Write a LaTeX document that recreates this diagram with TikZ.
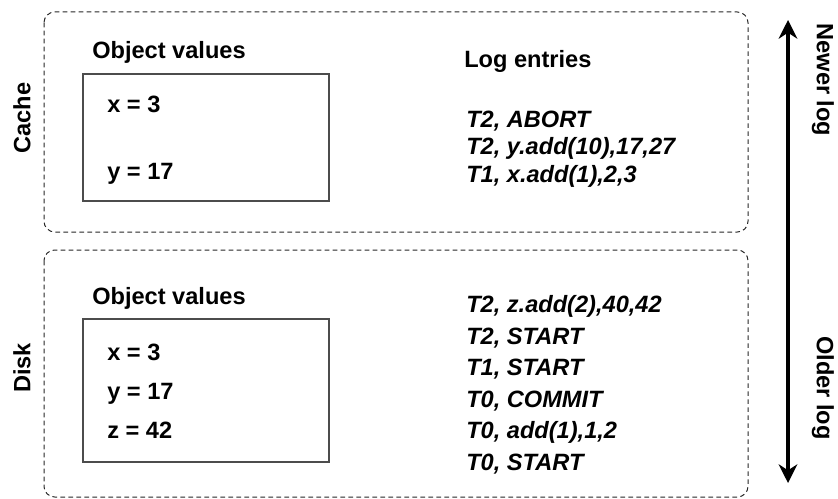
\documentclass[tikz,border=0pt]{standalone}
\usepackage{fontspec}
\setmainfont{Liberation Sans}
\usetikzlibrary{arrows.meta}

\tikzset{
	region/.style={draw=black!85, line width=0.75pt, dash pattern=on 3.5pt off 2.5pt, rounded corners=8pt},
	valbox/.style={draw=black!70, line width=1pt},
	heading/.style={anchor=base west, inner sep=0pt, font=\fontsize{17.7pt}{21pt}\selectfont\bfseries},
	entry/.style={anchor=base west, inner sep=0pt, font=\fontsize{17.7pt}{21pt}\selectfont\bfseries\itshape},
	sidelabel/.style={inner sep=0pt, font=\fontsize{17.7pt}{21pt}\selectfont\bfseries},
	logtip/.tip={Stealth[length=14pt,width=14pt,inset=4.5pt]},
}

\begin{document}
\begin{tikzpicture}[x=0.75pt,y=0.75pt,yscale=-1,xscale=1]
	\useasboundingbox (0,0) rectangle (838,499);
	
	%Rounded Rect (cache)
	\draw [region] (44,12) rectangle (748,232) ;
	%Rounded Rect (disk)
	\draw [region] (44,250) rectangle (748,497) ;
	
	%Shape: Rectangle (cache values)
	\draw [valbox] (83,74) rectangle (329,201) ;
	%Shape: Rectangle (disk values)
	\draw [valbox] (83,319) rectangle (329,462) ;
	
	% Side labels
	\draw (22,118) node [sidelabel, rotate=90] (cachelbl) {Cache};
	\draw (22,368) node [sidelabel, rotate=90] (disklbl) {Disk};
	
	% Text Node
	\draw (92,59) node [heading] (cacheobj) {Object values};
	\draw (107,113) node [heading] (cachex) {x = 3};
	\draw (107,180) node [heading] (cachey) {y = 17};
	
	% Text Node
	\draw (464,68) node [heading] (cachelog) {Log entries};
	\draw (466,128) node [entry] (cachelogA) {T2, ABORT};
	\draw (466,155) node [entry] (cachelogB) {T2, y.add(10),17,27};
	\draw (466,182) node [entry] (cachelogC) {T1, x.add(1),2,3};
	
	% Text Node
	\draw (92,304) node [heading] (diskobj) {Object values};
	\draw (107,360) node [heading] (diskx) {x = 3};
	\draw (107,399) node [heading] (disky) {y = 17};
	\draw (107,438) node [heading] (diskz) {z = 42};
	
	% Text Node
	\draw (466,312) node [entry] (disklogA) {T2, z.add(2),40,42};
	\draw (466,344) node [entry] (disklogB) {T2, START};
	\draw (466,375) node [entry] (disklogC) {T1, START};
	\draw (466,407) node [entry] (disklogD) {T0, COMMIT};
	\draw (466,438) node [entry] (disklogE) {T0, add(1),1,2};
	\draw (466,470) node [entry] (disklogF) {T0, START};
	
	%Straight Lines (log direction)
	\coordinate (newend) at (788,20);
	\coordinate (oldend) at (788,483);
	\draw [line width=3.5pt, logtip-logtip] (newend) -- (oldend) ;
	
	\draw (823,80) node [sidelabel, rotate=-90] (newerlbl) {Newer log};
	\draw (823,388) node [sidelabel, rotate=-90] (olderlbl) {Older log};
\end{tikzpicture}
\end{document}
